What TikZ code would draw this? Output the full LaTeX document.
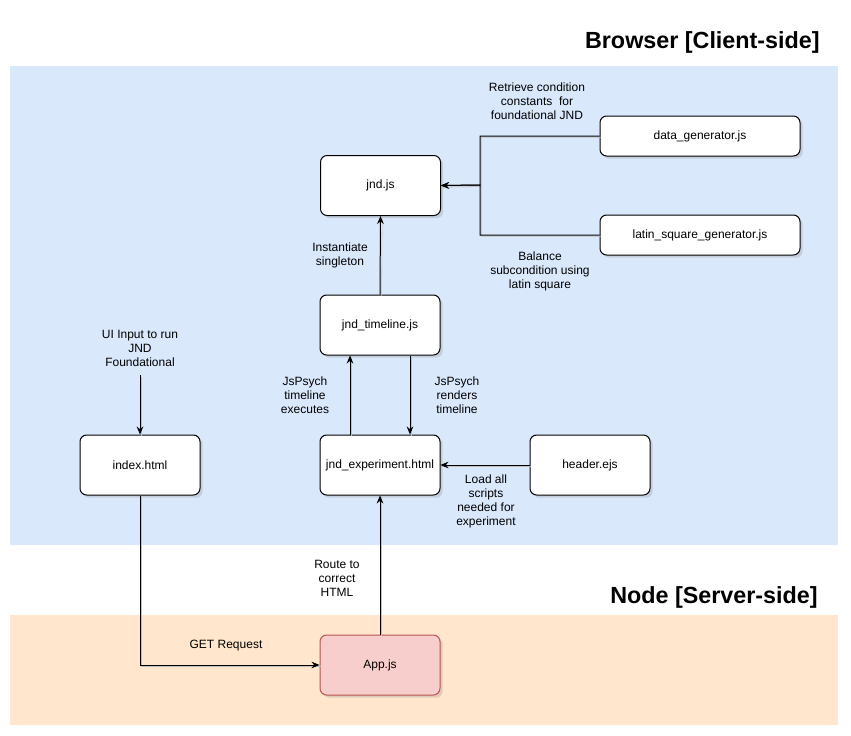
\documentclass[tikz,border=0pt]{standalone}
\usepackage{fontspec}
\setmainfont{Liberation Sans}
\usetikzlibrary{arrows.meta}
\usetikzlibrary{shadows}

\definecolor{clientblue}{RGB}{218,232,252}
\definecolor{serverorange}{RGB}{255,230,204}
\definecolor{apppink}{RGB}{248,206,204}
\definecolor{appred}{RGB}{184,84,80}

\tikzset{
  jsbox/.style={draw=black, fill=white, rounded corners=5pt, line width=0.75pt,
    minimum width=90pt, minimum height=45pt, align=center,
    font=\fontsize{9}{10.5}\selectfont,
    drop shadow={shadow xshift=2pt, shadow yshift=-2pt, opacity=0.25}},
  flow/.style={draw=black, line width=0.75pt, -{Stealth[length=6pt,width=5pt]},
    preaction={draw=black!25, -, transform canvas={xshift=1.2pt, yshift=-1.2pt}}},
  note/.style={align=center, font=\fontsize{9}{10.5}\selectfont, inner sep=0pt},
  bandtitle/.style={anchor=east, font=\bfseries\fontsize{17.5}{21}\selectfont, inner sep=0pt}
}

\begin{document}
\begin{tikzpicture}[x=0.75pt,y=0.75pt,yscale=-1,xscale=1]
\useasboundingbox (0,0) rectangle (851,736);

%Shape: bands
\fill [clientblue] (10,66) rectangle (838,545);
\fill [serverorange] (10,615) rectangle (838,725);

% Text Node
\node [bandtitle] (clienttitle) at (820,42) {Browser [Client-side]};
% Text Node
\node [bandtitle] (servertitle) at (818,597) {Node [Server-side]};

%Shape: boxes
\node [jsbox] (jnd) at (380.5,185.5) {jnd.js};
\node [jsbox, minimum width=150pt, minimum height=30pt] (datagen) at (700,136) {data\_generator.js};
\node [jsbox, minimum width=150pt, minimum height=30pt] (latin) at (700,235) {latin\_square\_generator.js};
\node [jsbox] (timeline) at (380,325) {jnd\_timeline.js};
\node [jsbox] (experiment) at (380,465) {jnd\_experiment.html};
\node [jsbox] (header) at (590,465) {header.ejs};
\node [jsbox] (index) at (140,465) {index.html};
\node [jsbox, fill=apppink, draw=appred] (app) at (380,665) {App.js};

%Straight Lines
\coordinate (merge) at (480,185);
\draw [flow] (datagen.west) -| (merge) -- (jnd.east);
\draw [flow] (latin.west) -| (merge) -- (jnd.east);
\draw [flow] (timeline.north) -- (jnd.south);
\draw [flow] ([xshift=-22.5pt]experiment.north) -- ([xshift=-22.5pt]timeline.south);
\draw [flow] ([xshift=22.5pt]timeline.south) -- ([xshift=22.5pt]experiment.north);
\draw [flow] (header.west) -- (experiment.east);
\coordinate (uistart) at (140,375);
\draw [flow] (uistart) -- (index.north);
\draw [flow] (index.south) |- (app.west);
\draw [flow] (app.north) -- (experiment.south);

% Text Node
\node [note] (retrievelbl) at (537,101) {Retrieve condition\\constants\ \ for\\foundational JND};
% Text Node
\node [note] (balancelbl) at (540,271) {Balance\\subcondition using\\latin square};
% Text Node
\node [note] (instlbl) at (340,255) {Instantiate\\singleton};
% Text Node
\node [note] (execlbl) at (305,395) {JsPsych\\timeline\\executes};
% Text Node
\node [note] (renderlbl) at (457,395) {JsPsych\\renders\\timeline};
% Text Node
\node [note] (loadlbl) at (486,501) {Load all\\scripts\\needed for\\experiment};
% Text Node
\node [note] (uilbl) at (140,348) {UI Input to run\\JND\\Foundational};
% Text Node
\node [note] (getlbl) at (226,646) {GET Request};
% Text Node
\node [note] (routelbl) at (337,578) {Route to\\correct\\HTML};

\end{tikzpicture}
\end{document}
